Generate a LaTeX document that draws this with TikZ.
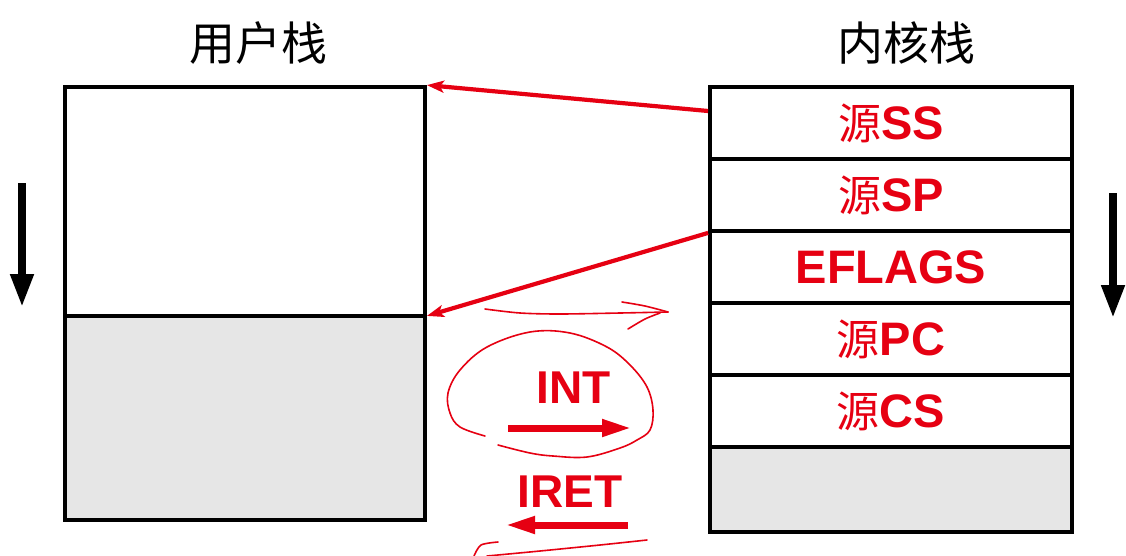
\documentclass[tikz,border=0pt]{standalone}
\usepackage{fontspec}
\setmainfont{Liberation Sans}
\newfontfamily\cjk{Noto Sans CJK SC}
\usetikzlibrary{arrows.meta}
\definecolor{pptred}{RGB}{230,0,18}
\definecolor{stackgray}{RGB}{230,230,230}
\begin{document}
\begin{tikzpicture}[x=1pt,y=-1pt,
  cell/.style={draw=black, line width=3.8pt, minimum width=362pt, minimum height=72pt,
    inner sep=0pt, text=pptred, font=\fontsize{47}{47}\selectfont\bfseries,
    text height=33pt, text depth=0pt},
  lcell/.style={draw=black, line width=3.8pt, minimum width=360pt, inner sep=0pt},
  title/.style={font=\cjk\fontsize{46}{46}\selectfont, text=black, inner sep=0pt},
  redlabel/.style={text=pptred, font=\fontsize{46}{46}\selectfont\bfseries, inner sep=0pt,
    text height=33pt, text depth=0pt},
  redarrow/.style={draw=pptred, line width=4.2pt, -{Stealth[length=17pt,width=12pt,inset=4pt]}},
  bigarrow/.style={draw=pptred, line width=7pt, -{Triangle[length=30pt,width=16pt]}},
  downarrow/.style={draw=black, line width=7.5pt, -{Triangle[length=33pt,width=22pt]}},
  hand/.style={draw=pptred, line width=1.6pt, line cap=round, line join=round}
]
\useasboundingbox[fill=white] (0,0) rectangle (1126,555);

% titles
\node[title] (t1) at (258,43) {用户栈};
\node[title] (t2) at (906,43) {内核栈};

% user stack
\node[lcell, fill=white, minimum height=229pt] (lu) at (245,201.5) {};
\node[lcell, fill=stackgray, minimum height=204pt] (ll) at (245,418) {};

% kernel stack
\newcommand{\yuan}{{\cjk\mdseries\fontsize{43}{43}\selectfont 源}}
\node[cell, fill=white] (ss) at (891,123) {\yuan SS};
\node[cell, fill=white] (sp) at (891,195) {\yuan SP};
\node[cell, fill=white] (ef) at (891,267) {EFLAGS};
\node[cell, fill=white] (pc) at (891,339) {\yuan PC};
\node[cell, fill=white] (cs) at (891,411) {\yuan CS};
\node[cell, fill=stackgray, minimum height=85pt] (bt) at (891,489.5) {};

% red pointers
\draw[redarrow] ([yshift=12pt]ss.west) -- (lu.north east);
\draw[redarrow] (sp.south west) -- ([yshift=2pt]lu.south east);

% growth direction arrows
\coordinate (la1) at (22,183);
\coordinate (la2) at (22,307);
\coordinate (ra1) at (1113,193);
\coordinate (ra2) at (1113,318);
\draw[downarrow] (la1) -- (la2);
\draw[downarrow] (ra1) -- (ra2);

% INT / IRET
\node[redlabel] (int) at (574,387) {INT};
\node[redlabel] (iret) at (570,491) {IRET};
\coordinate (i1) at (508,428);
\coordinate (i2) at (632,428);
\coordinate (r1) at (628,525);
\coordinate (r2) at (505,525);
\draw[bigarrow] (i1) -- (i2);
\draw[bigarrow] (r1) -- (r2);

% hand-drawn strokes
\draw[hand] plot[smooth] coordinates {(485,309) (520,313) (560,314) (620,313) (668,312)};
\draw[hand] plot[smooth] coordinates {(622,302) (645,306) (668,312)};
\draw[hand] plot[smooth] coordinates {(628,329) (645,319) (660,313)};
\draw[hand] plot[smooth, tension=0.6] coordinates {(485,436) (460,427) (450,413) (448,393) (460,370) (487,347) (530,332) (570,333) (607,347) (630,365) (647,387) (653,410) (650,430) (637,440) (620,448) (587,457) (553,456) (530,453) (498,445)};
\draw[hand] plot[smooth] coordinates {(498,542) (481,545) (474,556)};
\draw[hand] plot[smooth] coordinates {(487,556) (540,551) (600,545) (647,540)};
\end{tikzpicture}
\end{document}
